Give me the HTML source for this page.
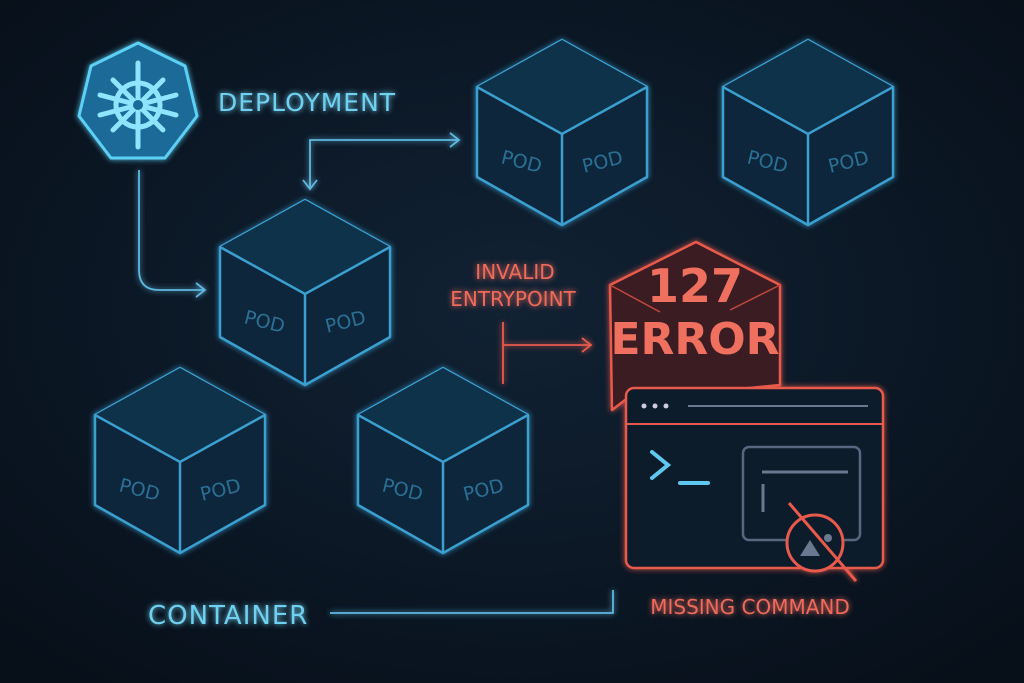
<!DOCTYPE html>
<html><head><meta charset="utf-8"><style>
html,body{margin:0;padding:0;background:#0a1522;}
svg{display:block}
text{font-family:"DejaVu Sans","Liberation Sans",sans-serif}
</style></head><body>
<svg width="1024" height="683" viewBox="0 0 1024 683" xmlns="http://www.w3.org/2000/svg">
<defs>
<radialGradient id="bg" cx="50%" cy="45%" r="70%"><stop offset="0" stop-color="#112234"/><stop offset="1" stop-color="#070f19"/></radialGradient>
<filter id="glow" x="-30%" y="-30%" width="160%" height="160%"><feGaussianBlur stdDeviation="3" result="b"/><feMerge><feMergeNode in="b"/><feMergeNode in="SourceGraphic"/></feMerge></filter>
<g id="cube">
<path d="M0,-92 L85,-45 L85,45 L0,93 L-85,45 L-85,-45 Z" fill="#0e263a" stroke="#3a9fd0" stroke-width="2.5" stroke-linejoin="round"/>
<path d="M0,-92 L85,-45 L0,2 L-85,-45 Z" fill="#11304a"/>
<path d="M-85,-45 L0,2 L85,-45 M0,2 L0,93" fill="none" stroke="#3a9fd0" stroke-width="2.5"/>
<text x="-42" y="36" font-size="19" fill="#2b6f95" text-anchor="middle" transform="rotate(14 -42 36)">POD</text>
<text x="42" y="36" font-size="19" fill="#2b6f95" text-anchor="middle" transform="rotate(-14 42 36)">POD</text>
</g>
</defs>
<rect width="1024" height="683" fill="url(#bg)"/>
<g filter="url(#glow)">
<use href="#cube" x="562" y="132"/>
<use href="#cube" x="808" y="132"/>
<use href="#cube" x="305" y="292"/>
<use href="#cube" x="180" y="460"/>
<use href="#cube" x="443" y="460"/>
<path d="M138,43 L185,66 L197,116 L165,158 L111,158 L79,116 L91,66 Z" fill="#1a6a98" stroke="#5cd0f5" stroke-width="3" stroke-linejoin="round"/>
<g stroke="#8fe4ff" stroke-width="5" fill="none" stroke-linecap="round">
<circle cx="138" cy="105" r="22"/>
<line x1="138" y1="63" x2="138" y2="147"/><line x1="100" y1="95" x2="176" y2="115"/><line x1="176" y1="95" x2="100" y2="115"/>
<line x1="113" y1="80" x2="163" y2="130"/><line x1="163" y1="80" x2="113" y2="130"/>
</g>
<circle cx="138" cy="105" r="5" fill="#1a6a98"/>
<text x="218" y="111" font-size="25" fill="#6fd0f0" letter-spacing="1">DEPLOYMENT</text>
<g fill="none" stroke="#5fb8e0" stroke-width="1.8">
<path d="M139,170 L139,270 Q139,290 159,290 L204,290 M196,283 L205,290 L196,297"/>
<path d="M458,140 L310,140 L310,188 M450,133 L459,140 L450,147 M303,180 L310,189 L317,180"/>
<path d="M330,613 L613,613 L613,590"/>
</g>
<text x="148" y="624" font-size="26" fill="#6fd0f0" letter-spacing="1">CONTAINER</text>
<text x="515" y="279" font-size="20" fill="#ef6a5a" text-anchor="middle">INVALID</text>
<text x="513" y="306" font-size="20" fill="#ef6a5a" text-anchor="middle">ENTRYPOINT</text>
<path d="M503,322 L503,384 M503,345 L590,345 M582,338 L591,345 L582,352" fill="none" stroke="#e85a4c" stroke-width="1.8"/>
<path d="M696,242 L780,285 L780,385 L625,400 L612,410 L610,285 Z" fill="#3a1a20" stroke="#e85a4c" stroke-width="2.5" stroke-linejoin="round"/>
<path d="M610,285 L660,312 M780,285 L730,310" stroke="#c04a40" stroke-width="1.5"/>
<text x="695" y="302" font-size="46" font-weight="bold" fill="#f0705e" text-anchor="middle">127</text>
<text x="695" y="354" font-size="44" font-weight="bold" fill="#f0705e" text-anchor="middle">ERROR</text>
<rect x="626" y="388" width="257" height="180" rx="8" fill="#101c2a" stroke="#e85a4c" stroke-width="2.5"/>
<line x1="626" y1="424" x2="883" y2="424" stroke="#e85a4c" stroke-width="2"/>
<circle cx="644" cy="406" r="2.5" fill="#ccd"/><circle cx="655" cy="406" r="2.5" fill="#ccd"/><circle cx="666" cy="406" r="2.5" fill="#ccd"/>
<line x1="688" y1="406" x2="868" y2="406" stroke="#6a7890" stroke-width="2"/>
<path d="M652,452 L668,465 L652,478 M680,483 L708,483" fill="none" stroke="#5fc8ef" stroke-width="4" stroke-linecap="round"/>
<rect x="743" y="447" width="117" height="93" rx="6" fill="none" stroke="#5a6580" stroke-width="2.5"/>
<line x1="762" y1="472" x2="848" y2="472" stroke="#6a7890" stroke-width="3"/>
<line x1="763" y1="484" x2="763" y2="512" stroke="#6a7890" stroke-width="3"/>
<circle cx="815" cy="543" r="28" fill="#101c2a" stroke="#e85a4c" stroke-width="3"/>
<path d="M800,556 L810,540 L820,556 Z" fill="#6a7890"/><circle cx="828" cy="538" r="4" fill="#6a7890"/>
<line x1="789" y1="503" x2="856" y2="581" stroke="#e85a4c" stroke-width="3"/>
<text x="750" y="614" font-size="20" fill="#ef6a5a" text-anchor="middle">MISSING COMMAND</text>
</g>
</svg>
</body></html>
